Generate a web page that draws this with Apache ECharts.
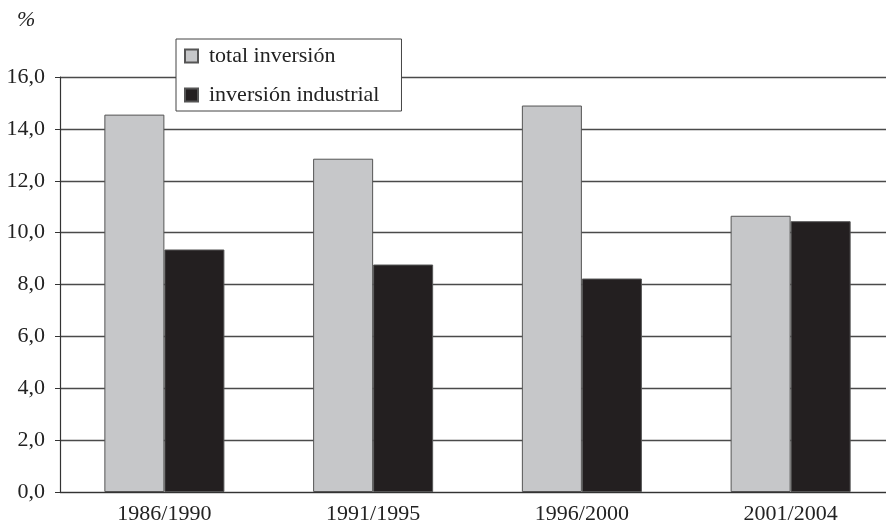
<!DOCTYPE html>
<html>
<head>
<meta charset="utf-8">
<script src="https://cdn.jsdelivr.net/npm/echarts@6/dist/echarts.min.js"></script>
<style>
  html, body { margin: 0; padding: 0; background: #fff; }
  #chart { width: 886px; height: 529px; }
</style>
</head>
<body>
<div id="chart"></div>
<script>
  var periodos = ['1986/1990', '1991/1995', '1996/2000', '2001/2004'];
  var totalInversion = [14.55, 12.85, 14.9, 10.65];
  var inversionIndustrial = [9.35, 8.77, 8.23, 10.44];
  var serieNames = ['total inversión', 'inversión industrial'];

  var font = 'Liberation Serif';
  var chart = echarts.init(document.getElementById('chart'));

  var option = {
    backgroundColor: '#fff',
    animation: false,
    textStyle: { fontFamily: font },
    graphic: [{
      type: 'text',
      left: 17,
      top: 9,
      style: { text: '%', font: 'italic 22px ' + font, fill: '#222' }
    }],
    legend: {
      orient: 'vertical',
      left: 176,
      top: 39,
      padding: [6, 22, 5, 8],
      itemGap: 17,
      itemWidth: 13,
      itemHeight: 13,
      backgroundColor: '#fff',
      borderColor: '#444',
      borderWidth: 1,
      z: 10,
      icon: 'rect',
      textStyle: { fontFamily: font, fontSize: 22, color: '#222', padding: [0, 0, 0, 6] },
      data: serieNames
    },
    // the plot runs a little past the right edge of the picture
    grid: { left: 60, width: 835, top: 77, bottom: 37, outerBoundsMode: 'none' },
    xAxis: {
      type: 'category',
      data: periodos,
      axisLine: { lineStyle: { color: '#333', width: 1.2 } },
      axisTick: { length: 5, lineStyle: { color: '#333' } },
      axisLabel: { fontFamily: font, fontSize: 22, color: '#222', margin: 11 }
    },
    yAxis: {
      type: 'value',
      min: 0,
      max: 16,
      interval: 2,
      axisLine: { show: true, lineStyle: { color: '#333', width: 1.2 } },
      axisTick: { show: true, length: 5, lineStyle: { color: '#333' } },
      axisLabel: {
        fontFamily: font, fontSize: 22, color: '#222', margin: 15,
        formatter: function (v) { return v.toFixed(1).replace('.', ','); }
      },
      splitLine: { lineStyle: { color: '#4a4a4a', width: 1.4 } }
    },
    series: [
      {
        name: serieNames[0],
        type: 'bar',
        data: totalInversion,
        barGap: '0%',
        barCategoryGap: '42.5%',
        itemStyle: { color: '#c6c7c9', borderColor: '#555', borderWidth: 1 }
      },
      {
        name: serieNames[1],
        type: 'bar',
        data: inversionIndustrial,
        itemStyle: { color: '#231f20', borderColor: '#555', borderWidth: 1 }
      }
    ]
  };

  chart.setOption(option);
</script>
</body>
</html>
